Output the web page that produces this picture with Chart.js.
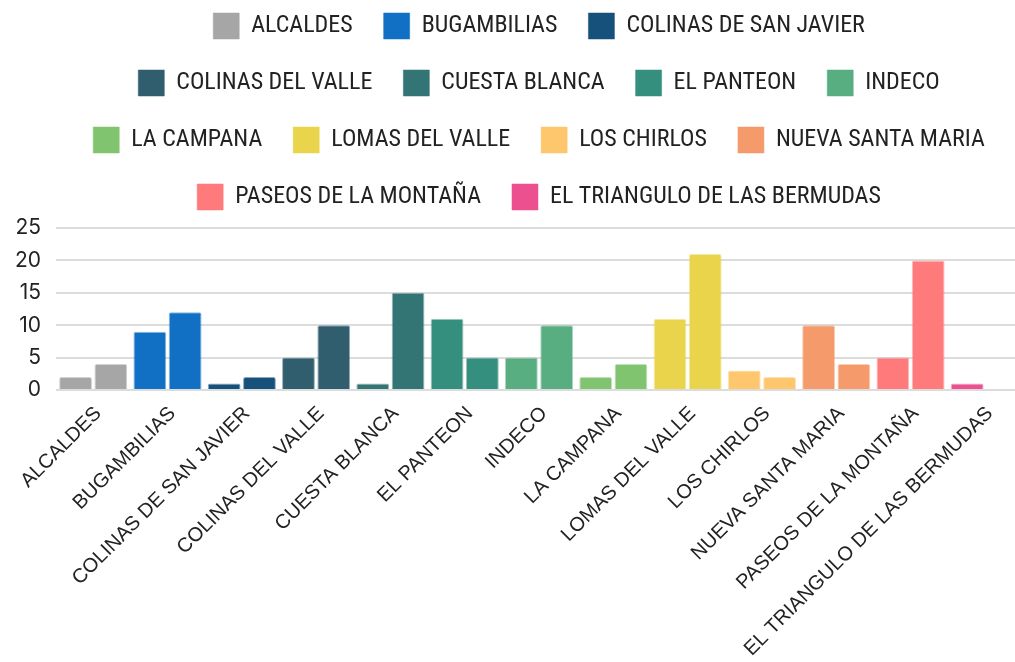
<!DOCTYPE html>
<html>
<head>
<meta charset="utf-8">
<script src="https://cdn.jsdelivr.net/npm/chart.js@4.4.1/dist/chart.umd.min.js"></script>
<style>
  html, body { margin: 0; padding: 0; background: #fff; overflow: hidden; }
  #contenedor { position: absolute; left: 0; top: -18px; width: 1022px; height: 683px; }
</style>
</head>
<body>
<div id="contenedor"><canvas id="grafico"></canvas></div>
<script>
// Colonias (categorias del eje X y de la leyenda)
const colonias = [
    'ALCALDES', 'BUGAMBILIAS', 'COLINAS DE SAN JAVIER', 'COLINAS DEL VALLE',
    'CUESTA BLANCA', 'EL PANTEON', 'INDECO', 'LA CAMPANA', 'LOMAS DEL VALLE',
    'LOS CHIRLOS', 'NUEVA SANTA MARIA', 'PASEOS DE LA MONTAÑA', 'EL TRIANGULO DE LAS BERMUDAS'
];

// Valores (dos barras por colonia)
const valoresPrimero = [2, 9, 1, 5, 1, 11, 5, 2, 11, 3, 10, 5, 1];
const valoresSegundo = [4, 12, 2, 10, 15, 5, 10, 4, 21, 2, 4, 20, null];

// Un color por colonia
const colores = [
    '#a6a6a6', '#1170c4', '#16517b', '#305e6f', '#337575', '#358f7e', '#58ae81',
    '#80c470', '#ead44c', '#fec66d', '#f49a6b', '#ff7a7b', '#ec508e'
];

// Eje Y
const escalaY = { min: 0, max: 25, paso: 5 };

const bordes = colores.map(c => c + '80');

// Espacio extra debajo de la leyenda
const margenLeyenda = {
    id: 'margenLeyenda',
    beforeInit(chart) {
        const fitOriginal = chart.legend.fit;
        chart.legend.fit = function fit() {
            fitOriginal.bind(chart.legend)();
            this.height += 8;
        };
    }
};

const ctx = document.getElementById('grafico').getContext('2d');
const grafico = new Chart(ctx, {
    type: 'bar',
    plugins: [margenLeyenda],
    data: {
        labels: colonias,
        datasets: [
            {
                label: 'Serie 1',
                data: valoresPrimero,
                backgroundColor: colores,
                borderColor: bordes,
                borderWidth: 1,
                borderRadius: 2
            },
            {
                label: 'Serie 2',
                data: valoresSegundo,
                backgroundColor: colores,
                borderColor: bordes,
                borderWidth: 1,
                borderRadius: 2
            }
        ]
    },
    options: {
        responsive: true,
        maintainAspectRatio: false,
        animation: false,
        categoryPercentage: 0.95,
        barPercentage: 0.93,
        layout: { padding: 0 },
        plugins: {
            tooltip: { enabled: false },
            legend: {
                position: 'top',
                fullSize: false,
                onClick: () => {},
                labels: {
                    boxWidth: 26,
                    boxHeight: 26,
                    padding: 31,
                    color: '#222',
                    font: { family: "'Liberation Sans Narrow', 'Roboto Condensed', Roboto, sans-serif", size: 24 },
                    generateLabels: () => colonias.map((nombre, i) => ({
                        text: nombre,
                        fillStyle: colores[i],
                        strokeStyle: bordes[i],
                        lineWidth: 1,
                        fontColor: '#222',
                        hidden: false,
                        index: i
                    }))
                }
            }
        },
        scales: {
            x: {
                grid: { display: false },
                border: { display: false },
                ticks: {
                    color: '#222',
                    minRotation: 45,
                    maxRotation: 45,
                    autoSkip: false,
                    padding: 4,
                    labelOffset: 5,
                    font: { family: "'Liberation Sans', Arial, sans-serif", size: 20 }
                }
            },
            y: {
                min: escalaY.min,
                max: escalaY.max,
                grid: { color: '#dcdcdc', lineWidth: 2, drawTicks: false },
                border: { display: false },
                ticks: {
                    stepSize: escalaY.paso,
                    autoSkip: false,
                    color: '#222',
                    padding: 15,
                    font: { family: "Inter, sans-serif", size: 21 }
                }
            }
        }
    }
});
</script>
</body>
</html>
